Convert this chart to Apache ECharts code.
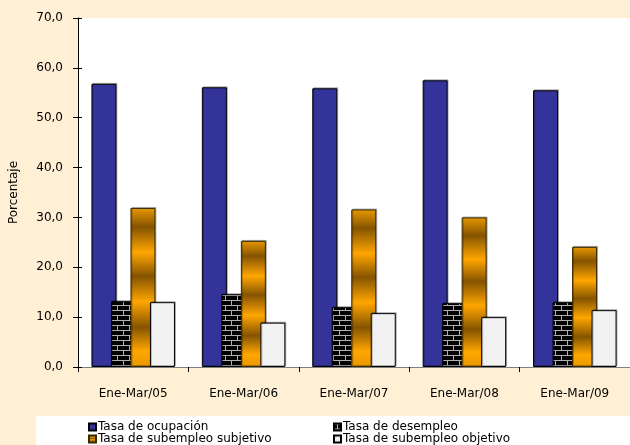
<!DOCTYPE html>
<html>
<head>
<meta charset="utf-8">
<script src="https://cdn.jsdelivr.net/npm/echarts@6/dist/echarts.min.js"></script>
<style>
html,body{margin:0;padding:0;background:#FFEFD5;}
#c{width:630px;height:445px;}
</style>
</head>
<body>
<div id="c"></div>
<script>
var categories = ['Ene-Mar/05','Ene-Mar/06','Ene-Mar/07','Ene-Mar/08','Ene-Mar/09'];
var seriesNames = ['Tasa de ocupación','Tasa de desempleo','Tasa de subempleo subjetivo','Tasa de subempleo objetivo'];
var ocupacion = [56.8, 56.1, 55.9, 57.5, 55.5];
var desempleo = [13.2, 14.6, 12.0, 12.8, 13.0];
var subjetivo = [31.9, 25.3, 31.6, 30.0, 24.1];
var objetivo  = [13.0, 8.9, 10.8, 10.0, 11.4];
var yTicks = {min: 0, max: 70, interval: 10};
var yTitle = 'Porcentaje';

// brick pattern tile
var tile = document.createElement('canvas');
tile.width = 12; tile.height = 10;
var g = tile.getContext('2d');
g.fillStyle = '#000'; g.fillRect(0,0,12,10);
g.fillStyle = '#b0b0b0';
g.fillRect(0,0,12,1);
g.fillRect(0,5,12,1);
g.fillRect(3,0,1,5);
g.fillRect(9,5,1,5);

var font = 'DejaVu Sans';
var chart = echarts.init(document.getElementById('c'), null, {renderer:'canvas'});
var shadow = {shadowColor:'rgba(0,0,0,0.25)', shadowOffsetX:1, shadowOffsetY:-1, shadowBlur:0};
function fmt(v){ return v.toFixed(1).replace('.', ','); }

chart.setOption({
  backgroundColor: '#FFEFD5',
  textStyle: {fontFamily: font},
  animation: false,
  graphic: [{type:'rect', left:36, top:416, shape:{width:594, height:29}, style:{fill:'#ffffff'}, z:0}],
  grid: {left:78, right:0, top:18, bottom:78, show:true, backgroundColor:'#ffffff', borderWidth:0,
         containLabel:false, outerBoundsMode:'none'},
  legend: [
    {data:[seriesNames[0], seriesNames[2]], orient:'vertical', left:88, top:421, height:24, itemWidth:7, itemHeight:7, itemGap:0,
     textStyle:{fontFamily:font, fontSize:12, color:'#000', lineHeight:12, padding:[0,0,0,-3]}, padding:0, icon:'rect'},
    {data:[seriesNames[1], seriesNames[3]], orient:'vertical', left:333, top:421, height:24, itemWidth:7, itemHeight:7, itemGap:0,
     textStyle:{fontFamily:font, fontSize:12, color:'#000', lineHeight:12, padding:[0,0,0,-3]}, padding:0, icon:'rect'}
  ],
  xAxis: {
    type:'category', data: categories,
    axisLine:{lineStyle:{color:'#808080', width:1}},
    axisTick:{show:true, length:5, lineStyle:{color:'#000'}},
    axisLabel:{fontFamily:font, fontSize:12, color:'#000', margin:21}
  },
  yAxis: [{
    type:'value', min:yTicks.min, max:yTicks.max, interval:yTicks.interval,
    name: yTitle, nameLocation:'middle', nameGap:58, nameRotate:90,
    nameTextStyle:{fontFamily:font, fontSize:12, color:'#000'},
    axisLine:{show:true, lineStyle:{color:'#000'}},
    axisTick:{show:true, length:5, lineStyle:{color:'#000'}},
    splitLine:{show:false},
    axisLabel:{fontFamily:font, fontSize:12, color:'#000', margin:15, formatter: fmt}
  },{
    type:'value', min:yTicks.min, max:yTicks.max, interval:yTicks.interval, position:'left',
    axisLine:{show:false}, axisLabel:{show:false}, splitLine:{show:false},
    axisTick:{show:true, inside:true, length:4, lineStyle:{color:'#000'}}
  }],
  series: [
    {name:seriesNames[0], type:'bar', data:ocupacion, barWidth:25, barGap:'-22%',
     itemStyle:Object.assign({color:'#333399', borderColor:'#000', borderWidth:1}, shadow)},
    {name:seriesNames[1], type:'bar', data:desempleo, barWidth:25, barGap:'-22%',
     itemStyle:Object.assign({color:{image:tile, repeat:'repeat'}, borderColor:'#000', borderWidth:1}, shadow)},
    {name:seriesNames[2], type:'bar', data:subjetivo, barWidth:25, barGap:'-22%',
     itemStyle:Object.assign({color:new echarts.graphic.LinearGradient(0,0,0,1,[
       {offset:0, color:'#E89800'},
       {offset:0.12, color:'#855400'},
       {offset:0.28, color:'#FFA600'},
       {offset:0.43, color:'#855400'},
       {offset:0.59, color:'#FFA600'},
       {offset:0.75, color:'#855400'},
       {offset:0.90, color:'#FFA600'},
       {offset:1, color:'#E89800'}
     ]), borderColor:'#3a2a00', borderWidth:1}, shadow)},
    {name:seriesNames[3], type:'bar', data:objetivo, barWidth:25, barGap:'-22%',
     itemStyle:Object.assign({color:'#F1F1F1', borderColor:'#000', borderWidth:1}, shadow)}
  ]
});
</script>
</body>
</html>
